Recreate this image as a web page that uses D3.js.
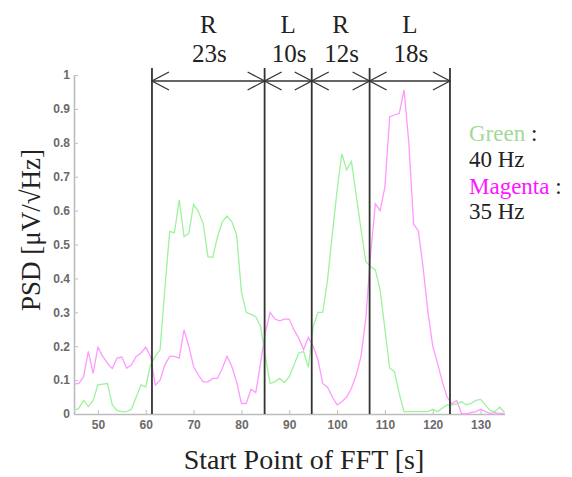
<!DOCTYPE html>
<html>
<head>
<meta charset="utf-8">
<script src="https://cdn.jsdelivr.net/npm/d3@7"></script>
<style>
  body { margin: 0; background: #fff; }
  svg { display: block; }
</style>
</head>
<body>
<div id="viz"></div>
<script>
// start point of FFT window (s)
var times = [45, 46, 47, 48, 49, 50, 51, 52, 53, 54, 55, 56, 57, 58, 59, 60,
  61, 62, 63, 64, 65, 66, 67, 68, 69, 70, 71, 72, 73, 74, 75, 76, 77, 78, 79, 80,
  81, 82, 83, 84, 85, 86, 87, 88, 89, 90, 91, 92, 93, 94, 95, 96, 97, 98, 99, 100,
  101, 102, 103, 104, 105, 106, 107, 108, 109, 110, 111, 112, 113, 114, 115, 116, 117, 118, 119, 120,
  121, 122, 123, 124, 125, 126, 127, 128, 129, 130, 131, 132, 133, 134, 135];

// 40 Hz (green)
var green = [0.01, 0.017, 0.04, 0.022, 0.04, 0.086, 0.088, 0.09, 0.027, 0.01, 0.007, 0.007, 0.014, 0.05, 0.086, 0.08,
  0.145, 0.17, 0.19, 0.37, 0.538, 0.535, 0.632, 0.523, 0.533, 0.618, 0.597, 0.562, 0.464, 0.462, 0.523, 0.567, 0.584, 0.567, 0.528, 0.36,
  0.3, 0.294, 0.287, 0.258, 0.17, 0.09, 0.095, 0.105, 0.093, 0.11, 0.145, 0.18, 0.184, 0.138, 0.258, 0.3, 0.3, 0.395, 0.53, 0.66,
  0.767, 0.72, 0.745, 0.645, 0.545, 0.45, 0.435, 0.425, 0.366, 0.25, 0.135, 0.125, 0.06, 0.007, 0.007, 0.007, 0.007, 0.007, 0.007, 0.014,
  0.007, 0.017, 0.027, 0.027, 0.03, 0.036, 0.027, 0.031, 0.04, 0.043, 0.027, 0.01, 0.007, 0.02, 0.005];

// 35 Hz (magenta)
var magenta = [0.088, 0.09, 0.11, 0.185, 0.12, 0.197, 0.17, 0.15, 0.134, 0.165, 0.168, 0.135, 0.145, 0.17, 0.18, 0.197,
  0.17, 0.085, 0.1, 0.145, 0.17, 0.17, 0.165, 0.248, 0.2, 0.14, 0.115, 0.095, 0.095, 0.105, 0.105, 0.135, 0.17, 0.14, 0.095, 0.031,
  0.031, 0.073, 0.063, 0.15, 0.24, 0.3, 0.28, 0.275, 0.28, 0.28, 0.248, 0.223, 0.19, 0.226, 0.2, 0.16, 0.09, 0.079, 0.05, 0.027,
  0.036, 0.05, 0.076, 0.115, 0.17, 0.28, 0.47, 0.62, 0.6, 0.67, 0.877, 0.882, 0.887, 0.956, 0.8, 0.56, 0.54, 0.43, 0.3, 0.2,
  0.15, 0.095, 0.05, 0.03, 0.04, 0.002, 0, 0.004, 0.007, 0.014, 0.007, 0.002, 0.004, 0.002, 0.002];

// task boundaries and labels
var bounds = [61.3, 84.85, 94.7, 106.8, 123.6];
var sides = ["R", "L", "R", "L"];
var durations = ["23s", "10s", "12s", "18s"];

var xTicks = [50, 60, 70, 80, 90, 100, 110, 120, 130];
var yTicks = [0, 0.1, 0.2, 0.3, 0.4, 0.5, 0.6, 0.7, 0.8, 0.9, 1];

var width = 572,
    height = 477;

var svg = d3.select("#viz")
  .append("svg")
    .attr("width", width)
    .attr("height", height);

svg.append("rect")
    .attr("width", width)
    .attr("height", height)
    .style("fill", "white");

var x = d3.scaleLinear().domain([45, 135]).range([74, 504.5]);
var y = d3.scaleLinear().domain([0, 1]).range([414, 75]);

var serif = "'Liberation Serif', 'DejaVu Serif', serif";

// axes
var xAxis = svg.append("g")
    .attr("transform", "translate(0," + y(0) + ")")
    .call(d3.axisBottom(x).tickValues(xTicks).tickSize(-4).tickPadding(6).tickSizeOuter(0));

var yAxis = svg.append("g")
    .attr("transform", "translate(" + x(45) + ",0)")
    .call(d3.axisLeft(y).tickValues(yTicks).tickSize(-4).tickPadding(4).tickSizeOuter(0)
      .tickFormat(function(d) { return d === 0 ? "0" : d === 1 ? "1" : d3.format(".1f")(d); }));

[xAxis, yAxis].forEach(function(g) {
  g.select(".domain").style("stroke", "#bdbdbd").style("stroke-width", 1.6);
  g.selectAll(".tick line").style("stroke", "#bdbdbd").style("stroke-width", 1);
  g.selectAll(".tick text")
      .style("font-family", "'Liberation Sans', Arial, sans-serif")
      .style("font-size", "12px")
      .style("font-weight", "bold")
      .style("fill", "#6a6a6a");
});

// series
var line = d3.line()
    .x(function(d) { return x(d[0]); })
    .y(function(d) { return y(d[1]); });

svg.append("path")
    .datum(d3.zip(times, magenta))
    .attr("d", line)
    .style("fill", "none")
    .style("stroke", "#ff99ff")
    .style("stroke-width", 1.3);

svg.append("path")
    .datum(d3.zip(times, green))
    .attr("d", line)
    .style("fill", "none")
    .style("stroke", "#9df29d")
    .style("stroke-width", 1.3);

// boundary lines
var topY = 68, arrowY = 81;
svg.selectAll(".bound")
    .data(bounds)
  .enter().append("line")
    .attr("class", "bound")
    .attr("x1", function(d) { return x(d); })
    .attr("x2", function(d) { return x(d); })
    .attr("y1", topY)
    .attr("y2", y(0))
    .style("stroke", "#333")
    .style("stroke-width", 1.8);

svg.append("line")
    .attr("x1", x(bounds[0]))
    .attr("x2", x(bounds[bounds.length - 1]))
    .attr("y1", arrowY)
    .attr("y2", arrowY)
    .style("stroke", "#333")
    .style("stroke-width", 1.3);

// open chevron arrowheads at both ends of every segment
var ah = 17, aw = 9;
var segs = d3.range(sides.length).map(function(i) {
  return {a: bounds[i], b: bounds[i + 1], side: sides[i], dur: durations[i]};
});

svg.selectAll(".head")
    .data(segs)
  .enter().append("path")
    .attr("class", "head")
    .attr("d", function(d) {
      var a = x(d.a), b = x(d.b);
      return "M" + (a + ah) + "," + (arrowY - aw) + "L" + a + "," + arrowY + "L" + (a + ah) + "," + (arrowY + aw) +
             "M" + (b - ah) + "," + (arrowY - aw) + "L" + b + "," + arrowY + "L" + (b - ah) + "," + (arrowY + aw);
    })
    .style("fill", "none")
    .style("stroke", "#333")
    .style("stroke-width", 1.3);

svg.selectAll(".side")
    .data(segs)
  .enter().append("text")
    .attr("class", "side")
    .attr("x", function(d) { return (x(d.a) + x(d.b)) / 2; })
    .attr("y", 33)
    .attr("text-anchor", "middle")
    .style("font-family", serif)
    .style("font-size", "25px")
    .style("fill", "#222")
    .text(function(d) { return d.side; });

svg.selectAll(".dur")
    .data(segs)
  .enter().append("text")
    .attr("class", "dur")
    .attr("x", function(d) { return (x(d.a) + x(d.b)) / 2 + 1; })
    .attr("y", 62)
    .attr("text-anchor", "middle")
    .style("font-family", serif)
    .style("font-size", "25px")
    .style("fill", "#222")
    .text(function(d) { return d.dur; });

// legend text
var legend = svg.append("g")
    .style("font-family", serif)
    .style("font-size", "23px")
    .style("fill", "#222");

var l1 = legend.append("text").attr("x", 469).attr("y", 141);
l1.append("tspan").style("fill", "#a3d996").text("Green");
l1.append("tspan").text(" :");
legend.append("text").attr("x", 469).attr("y", 167).text("40 Hz");
var l2 = legend.append("text").attr("x", 469).attr("y", 194);
l2.append("tspan").style("fill", "#ff14ff").text("Magenta");
l2.append("tspan").text(" :");
legend.append("text").attr("x", 469).attr("y", 219).text("35 Hz");

// axis titles
svg.append("text")
    .attr("transform", "translate(40,230) rotate(-90)")
    .attr("text-anchor", "middle")
    .style("font-family", serif)
    .style("font-size", "27px")
    .style("fill", "#222")
    .text("PSD [\u03bcV/\u221aHz]");

svg.append("text")
    .attr("x", 304)
    .attr("y", 469)
    .attr("text-anchor", "middle")
    .style("font-family", serif)
    .style("font-size", "28px")
    .style("fill", "#222")
    .text("Start Point of FFT [s]");
</script>
</body>
</html>
